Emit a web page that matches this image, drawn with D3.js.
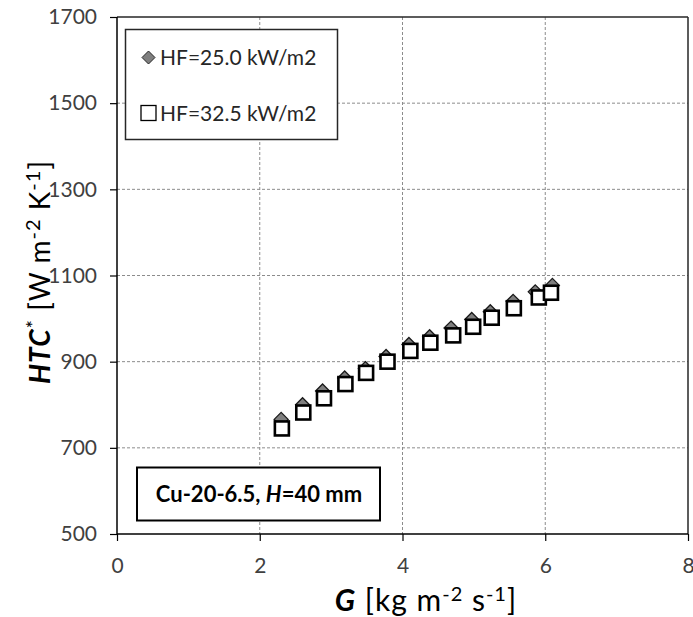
<!DOCTYPE html>
<html>
<head>
<meta charset="utf-8">
<script src="https://cdn.jsdelivr.net/npm/d3@7"></script>
<style>
  html, body { margin: 0; padding: 0; background: #fff; }
  svg { display: block; font-family: Lato, "Open Sans", sans-serif; }
</style>
</head>
<body>
<svg id="chart" width="693" height="617"></svg>
<script>
// Heat transfer coefficient vs. mass flux, two heat-flux levels
const gLow   = [2.30, 2.60, 2.88, 3.19, 3.48, 3.77, 4.09, 4.38, 4.68, 4.97, 5.23, 5.55, 5.86, 6.10];
const htcLow = [766, 800, 832, 862, 884, 912, 940, 958, 978, 998, 1016, 1040, 1062, 1077];
const gHigh   = [2.31, 2.61, 2.90, 3.20, 3.49, 3.79, 4.11, 4.39, 4.71, 4.99, 5.25, 5.56, 5.91, 6.08];
const htcHigh = [745, 782, 815, 848, 874, 900, 925, 944, 961, 981, 1002, 1024, 1049, 1060];
const xTicks = [0, 2, 4, 6, 8];
const yTicks = [500, 700, 900, 1100, 1300, 1500, 1700];
const legendLabels = ["HF=25.0 kW/m2", "HF=32.5 kW/m2"];

const svg = d3.select("#chart");
const mLeft = 117, mRight = 688, mTop = 17, mBottom = 534;

const x = d3.scaleLinear().domain([0, 8]).range([mLeft, mRight]);
const y = d3.scaleLinear().domain([500, 1700]).range([mBottom, mTop]);

// dashed grid
const grid = svg.append("g");
grid.selectAll("line.gx").data(xTicks.filter(d => d > 0 && d < 8)).join("line")
  .attr("x1", d => x(d)).attr("x2", d => x(d))
  .attr("y1", mTop).attr("y2", mBottom)
  .attr("stroke", "#8c8c8c").attr("stroke-width", 1).attr("stroke-dasharray", "3,2");
grid.selectAll("line.gy").data(yTicks.filter(d => d > 500 && d < 1700)).join("line")
  .attr("x1", mLeft).attr("x2", mRight)
  .attr("y1", d => y(d)).attr("y2", d => y(d))
  .attr("stroke", "#8c8c8c").attr("stroke-width", 1).attr("stroke-dasharray", "3,2");

// frame at top and right
svg.append("line").attr("x1", mLeft).attr("x2", mRight).attr("y1", y(1700)).attr("y2", y(1700))
  .attr("stroke", "#262626").attr("stroke-width", 1.5);
svg.append("line").attr("x1", x(8)).attr("x2", x(8)).attr("y1", mTop).attr("y2", mBottom)
  .attr("stroke", "#262626").attr("stroke-width", 1.5);

// axes
const xAxis = d3.axisBottom(x).tickValues(xTicks).tickSize(7).tickPadding(17).tickFormat(d3.format("d"));
const yAxis = d3.axisLeft(y).tickValues(yTicks).tickSize(7).tickPadding(13).tickFormat(d3.format("d"));

const gx = svg.append("g").attr("transform", `translate(0,${mBottom})`).call(xAxis);
const gy = svg.append("g").attr("transform", `translate(${mLeft},0)`).call(yAxis);
[gx, gy].forEach(g => {
  g.select(".domain").attr("stroke", "#000").attr("stroke-width", 1.5);
  g.selectAll(".tick line").attr("stroke", "#000").attr("stroke-width", 1.2);
  g.selectAll(".tick text").attr("fill", "#404040").style("font-size", "21px")
    .style("font-family", "Lato, 'Open Sans', sans-serif");
});
gx.select(".domain").attr("d", `M${mLeft},0H${mRight}`);
gy.select(".domain").attr("d", `M0,${mTop}V${mBottom}`);

// markers: diamonds (25.0) drawn first, squares (32.5) on top
const dHalf = 7;
const diamond = (cx, cy, h) => `M${cx},${cy - h}L${cx + h},${cy}L${cx},${cy + h}L${cx - h},${cy}Z`;
svg.append("g").selectAll("path").data(gLow.map((g, i) => [g, htcLow[i]])).join("path")
  .attr("d", d => diamond(x(d[0]), y(d[1]), dHalf))
  .attr("fill", "#7f7f7f").attr("stroke", "#1a1a1a").attr("stroke-width", 1.3);

const sq = 14;
svg.append("g").selectAll("rect").data(gHigh.map((g, i) => [g, htcHigh[i]])).join("rect")
  .attr("x", d => x(d[0]) - sq / 2).attr("y", d => y(d[1]) - sq / 2)
  .attr("width", sq).attr("height", sq)
  .attr("fill", "#fff").attr("stroke", "#000").attr("stroke-width", 2.6);

// legend
const lg = svg.append("g");
lg.append("rect").attr("x", 125.5).attr("y", 29.5).attr("width", 212).attr("height", 110)
  .attr("fill", "#fff").attr("stroke", "#262626").attr("stroke-width", 1.5);
const ly = [57.5, 113];
lg.append("path")
  .attr("d", diamond(148.5, ly[0], 6.5))
  .attr("fill", "#7f7f7f").attr("stroke", "#262626").attr("stroke-width", 1);
lg.append("rect").attr("x", 141).attr("y", ly[1] - 7.5).attr("width", 15).attr("height", 15)
  .attr("fill", "#fff").attr("stroke", "#000").attr("stroke-width", 1.3);
lg.selectAll("text").data(legendLabels).join("text")
  .attr("x", 160).attr("y", (d, i) => ly[i]).attr("dy", "0.36em")
  .attr("fill", "#262626").style("font-size", "21px")
  .text(d => d);

// annotation box
svg.append("rect").attr("x", 137).attr("y", 467.5).attr("width", 243).attr("height", 53)
  .attr("fill", "#fff").attr("stroke", "#000").attr("stroke-width", 2);
const ann = svg.append("text").attr("x", 259).attr("y", 494).attr("dy", "0.36em")
  .attr("text-anchor", "middle").attr("fill", "#000")
  .style("font-size", "22px").style("font-weight", "bold");
ann.append("tspan").text("Cu-20-6.5, ");
ann.append("tspan").style("font-style", "italic").text("H");
ann.append("tspan").text("=40 mm");

// superscript-bearing axis title
function titleParts(sel, parts) {
  parts.forEach(p => {
    const t = sel.append("tspan").text(p.t);
    if (p.b) t.style("font-weight", "bold").style("font-style", "italic");
    if (p.sup) t.attr("dy", -10).style("font-size", "20px");
    if (p.back) t.attr("dy", 10);
  });
}

// x axis title
const xt = svg.append("text").attr("x", 426).attr("y", 611)
  .attr("text-anchor", "middle").attr("fill", "#000")
  .style("font-size", "30px").style("letter-spacing", "1px");
titleParts(xt, [
  { t: "G", b: true }, { t: " [kg m" }, { t: "-2", sup: true },
  { t: " s", back: true }, { t: "-1", sup: true }, { t: "]", back: true }
]);

// y axis title
const yt = svg.append("text").attr("transform", `translate(50,272) rotate(-90)`)
  .attr("text-anchor", "middle").attr("fill", "#000")
  .style("font-size", "28px").style("letter-spacing", "1px");
titleParts(yt, [
  { t: "HTC", b: true }, { t: "*", sup: true }, { t: " [W m", back: true },
  { t: "-2", sup: true }, { t: " K", back: true }, { t: "-1", sup: true }, { t: "]", back: true }
]);
</script>
</body>
</html>
